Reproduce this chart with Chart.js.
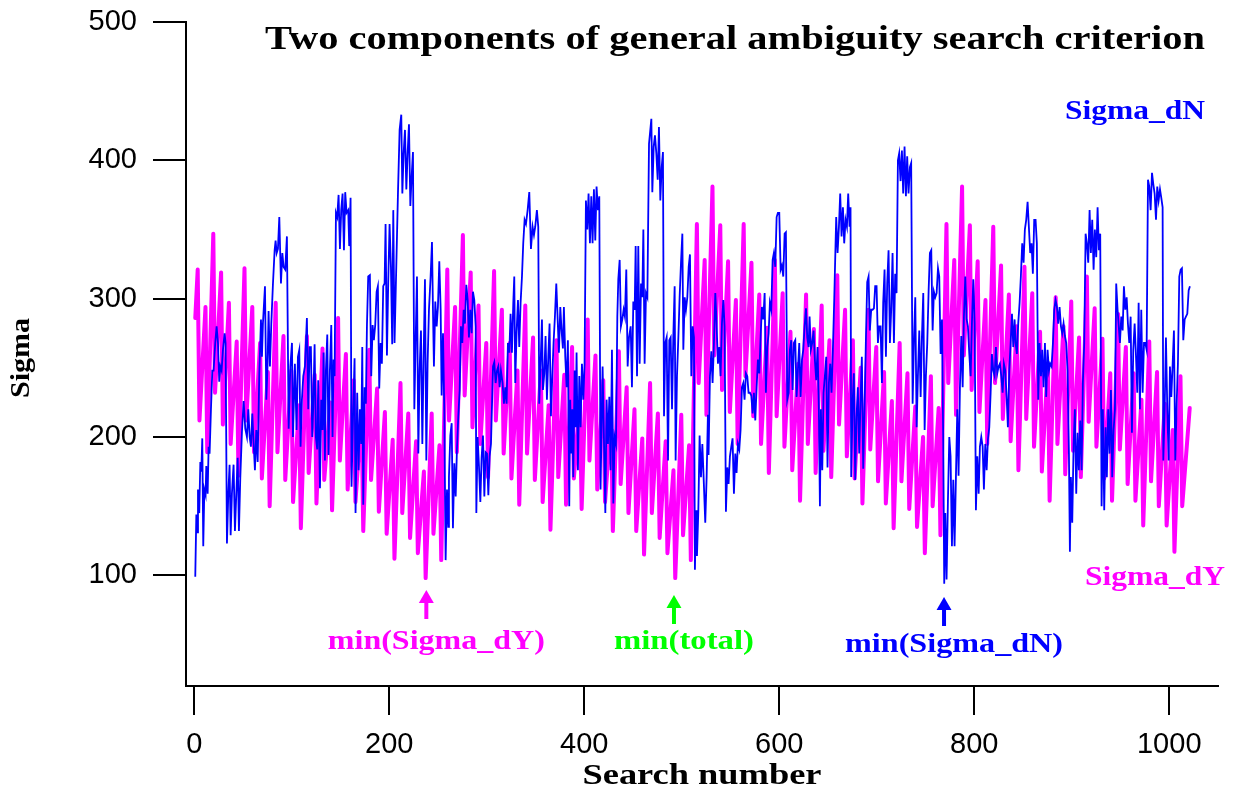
<!DOCTYPE html>
<html>
<head>
<meta charset="utf-8">
<title>Two components of general ambiguity search criterion</title>
<script src="https://cdn.jsdelivr.net/npm/chart.js@4"></script>
<style>
  body { margin: 0; background: #fff; }
  #wrap { width: 1234px; height: 792px; }
</style>
</head>
<body>
<div id="wrap"><canvas id="grafico" width="1234" height="792"></canvas></div>
<script>
// ---- data ----

// axis ticks
var xTicks = [0, 200, 400, 600, 800, 1000];
var yTicks = [100, 200, 300, 400, 500];

// Sigma_dN (blue): search number / sigma, turning points
var dnSearch = [
  1, 2.1, 3.4, 3.8, 5.1, 6.2, 7.2, 8.2, 9.2, 10.3,
  11.6, 12.3, 13.7, 14.7, 15.7, 17.1, 18.5, 19.8, 21.5, 22.9,
  24.3, 25.6, 26.7, 28, 29.4, 31.1, 32.1, 33.5, 34.9, 36.2,
  37.3, 38.6, 40.3, 41.7, 43.1, 44.5, 45.8, 47.2, 48.9, 50.6,
  52.3, 54, 55.4, 56.8, 58.1, 59.5, 60.9, 62.2, 63.6, 65,
  66.7, 68.4, 69.4, 70.4, 72.5, 73.9, 75.2, 76.2, 77.6, 79,
  80.7, 82.4, 83.4, 84.5, 85.8, 87.2, 88.9, 90.3, 91.6, 93.3,
  95, 96.8, 98.5, 100.2, 101.2,
  103.2, 104.9, 106.3, 107.7, 109, 110.4, 111.8, 113.5, 115.5, 116.9,
  118.3, 119.6, 121, 122, 123.4, 124.7, 126.1, 127.1, 128.9, 130.2,
  131.6, 132.6, 134, 135, 136.4, 137.7, 139.1, 140.5, 141.8, 142.9,
  143.9, 145.3, 146.6, 148, 149.4, 150.7, 152.1, 153.5, 154.8, 156.2,
  157.9, 158.9, 160.3, 161.3, 163, 164.4, 165.4, 167.1, 168.5, 169.9,
  171.2, 172.3, 173.3, 174.7, 176, 177.1, 178.4, 180.1, 181.5, 182.9,
  184.2, 185.6, 187, 188.3, 189.7, 191.1, 192.4, 193.8, 195.2, 196.2,
  197.6, 198.9, 200.3, 201.7, 203, 204.1, 205.4,
  208.9, 210.6, 212.3, 213.4, 214.7, 216.1, 217.5, 218.8, 220.2, 221.6,
  222.9, 224.3, 225.7, 227, 228.4, 229.8, 231.1, 232.5, 233.9, 235.2,
  236.6, 238, 239.3, 240.7, 242.4, 243.8, 244.8, 245.8, 247.2, 248.6,
  249.9, 251.3, 252.7, 253.7, 255.1, 256.4, 257.8, 259.2, 260.5, 261.2,
  262.6, 264, 265.3, 266.7, 268.1, 269.4, 270.8, 272.2, 273.5, 274.9,
  276.3, 277.6, 279, 280.4, 281.7, 283.1, 284.5, 285.8, 287.2, 288.6,
  289.3, 290.6, 292, 293.4, 294.7, 296.1, 297.5, 298.8, 300.2, 301.6,
  302.9, 304.3, 306.4, 307.7, 309.1, 310.5, 311.8, 313.2,
  314.5, 316.2, 317.6, 319, 320.3, 321.7, 323.1, 324.4, 325.8, 327.2,
  328.2, 329.2, 330.6, 332, 333.3, 334.7, 336.1, 337.4, 338.8, 340.2,
  341.9, 343.6, 345.3, 347, 348.4, 349.7, 351.4, 352.8, 353.8, 355.2,
  356.6, 357.6, 359, 360.3, 361.7, 363.1, 364.4, 365.8, 367.2, 368.5,
  369.9, 371.3, 372.6, 374, 375.4, 376.7, 378.1, 379.1, 380.5, 381.9,
  383.2, 384.6, 385.6, 386.6, 387.7, 388.7, 390.1, 391.1, 392.1, 393.5,
  394.9, 396.2, 397.6, 399, 400.3, 401.7, 403.1, 404.4, 405.8, 407.2,
  408.5, 409.9, 411.3, 412.6, 414, 415.4, 416.7, 418.8,
  421.6, 422.9, 424.3, 425.7, 427, 428.4, 429.8, 431.1, 432.5, 433.9,
  434.9, 436.3, 437.6, 439, 440.4, 441.7, 443.1, 444.5, 445.9, 447.6,
  448.9, 450.3, 451.7, 452.7, 454.1, 455.4, 456.8, 458.2, 459.5, 460.6,
  461.9, 463.3, 464.7, 466.4, 467.4, 468.8, 469.8, 471.2, 472.5, 473.9,
  475.3, 476.6, 478, 479.4, 480.7, 481.8, 483.1, 484.5, 485.9, 487.2,
  488.6, 490, 491.3, 492.7, 493.7, 495.1, 496.5, 497.8, 499.2, 500.6,
  501.6, 503, 504.3, 505.7, 507.1, 508.4, 509.8, 511.2, 512.5, 513.5,
  514.6, 515.6, 517, 518.3, 519.7, 521.1, 522.4,
  524.1, 525.5, 526.8, 527.5, 528.9, 530.3, 531.6, 533, 534.4, 535.7,
  537.1, 538.5, 539.8, 541.2, 542.6, 543.9, 545.3, 546.7, 548, 549.4,
  550.8, 552.1, 553.5, 554.9, 556.2, 557.6, 559, 560.3, 561.7, 563.1,
  564.4, 565.8, 567.2, 568.5, 569.9, 571.3, 572.7, 574, 575.4, 576.8,
  578.1, 579.5, 580.9, 582.2, 583.6, 585, 586.3, 587.7, 589.1, 590.4,
  591.8, 593.2, 594.5, 595.9, 597.3, 598.6, 600, 601.4, 602.7, 604.1,
  605.5, 606.8, 608.2, 609.6, 610.9, 612.3, 613.7, 615, 616.4, 617.8,
  619.1, 620.5, 621.9, 623.3, 624.6, 626, 627.4, 628.7, 630.1,
  631.1, 632.4, 633.8, 635.2, 636.5, 637.9, 639.3, 640.6, 641.7, 642.7,
  644.1, 645.4, 646.8, 648.2, 649.5, 650.9, 652.3, 653.6, 655, 656.4,
  658.4, 659.8, 661.2, 662.5, 663.9, 665.3, 666.6, 668, 669.4, 670.7,
  672.1, 673.1, 673.8, 675.2, 676.5, 677.9, 679.3, 680.6, 682, 683.4,
  684.7, 686.1, 687.5, 688.8, 690.2, 691.6, 692.9, 694.3, 695.7, 697.1,
  698.4, 699.8, 701.2, 702.5, 703.9, 705.3, 706.6, 708, 709.4, 710.7,
  712.1, 713.5, 714.8, 716.2, 717.6, 718.9, 720.3, 721.7, 723, 724.4,
  725.8, 727.1, 728.5, 729.9, 731.2, 732.6, 734, 735.3,
  736.8, 738.1, 739.5, 740.9, 742.2, 743.6, 745, 746.3, 747.7, 749.1,
  750.4, 751.8, 753.2, 754.5, 755.9, 757.3, 758.6, 760, 761.4, 762.8,
  764.1, 765.5, 766.9, 768.2, 769.2, 770.3, 771.6, 773, 774.4, 775.7,
  777.1, 778.5, 779.8, 781.2, 782.6, 783.9, 785.3, 786.7, 788.1, 789.4,
  790.8, 792.2, 793.5, 794.9, 796.3, 797.6, 799, 800.4, 801.7, 803.1,
  804.5, 805.8, 807.2, 808.6, 809.9, 811.3, 812.7, 814, 815.4, 816.8,
  818.1, 819.5, 820.9, 822.2, 823.6, 825, 826.3, 827.7, 829.1, 830.4,
  831.8, 833.2, 834.5, 835.9, 837.3, 838.7, 840, 841.4,
  842.4, 843.7, 845.1, 846.5, 847.8, 849.2, 850.6, 851.9, 853.3, 854.7,
  856, 857.4, 858.8, 860.1, 861.5, 862.9, 864.2, 865.6, 867, 868.4,
  869.7, 871.1, 872.5, 873.8, 875.2, 876.6, 877.9, 879.3, 880.7, 882,
  883.4, 884.8, 886.1, 887.5, 888.9, 890.2, 891.6, 893, 894.3, 895.7,
  897.1, 898.1, 899.1, 900.5, 901.9, 903.2, 904.6, 906, 907.3, 908.7,
  910.1, 911.4, 912.8, 914.2, 915.5, 916.9, 918.3, 919.6, 921, 922.4,
  923.7, 925.1, 926.5, 927.8, 929.2, 930.6, 931.9, 933.3, 934.7, 936,
  937.4, 938.8, 940.2, 941.5, 942.9, 944.3, 945.6, 947,
  949.4, 950.8, 952.2, 953.5, 954.9, 956.3, 957.6, 959, 960.4, 961.7,
  963.1, 964.5, 965.8, 967.2, 968.6, 969.9, 971.3, 972.7, 974.1, 975.4,
  976.8, 978.2, 979.5, 980.9, 982.3, 983.6, 985, 986.4, 987.7, 989.1,
  990.5, 991.8, 993.2, 993.9, 995.3, 996.6, 998, 999.4, 1000.7, 1002.1,
  1003.5, 1004.8, 1006.2, 1007.6, 1008.9, 1010.3, 1011.7, 1013, 1014.4, 1015.8,
  1017.1, 1018.5, 1019.9, 1021.2
];
var dnSigma = [
  99, 144, 131, 162, 145, 182, 175, 199, 121, 162,
  158, 179, 159, 193, 188, 220, 248, 248, 268, 280,
  268, 240, 251, 248, 263, 275, 268, 123, 159, 180,
  129, 159, 180, 132, 159, 185, 132, 171, 204, 226,
  206, 200, 220, 200, 193, 217, 195, 176, 205, 182,
  246, 285, 258, 282, 309, 227, 253, 291, 251, 282,
  311, 335, 342, 333, 336, 359, 311, 333, 323, 321,
  345, 206, 251, 268, 200,
  253, 205, 258, 263, 193, 227, 244, 251, 286, 220,
  265, 265, 200, 222, 267, 200, 191, 241, 163, 227,
  205, 261, 183, 248, 274, 187, 248, 281, 200, 256,
  244, 362, 359, 375, 336, 364, 376, 335, 377, 362,
  364, 338, 373, 164, 220, 257, 145, 232, 176, 220,
  195, 265, 151, 236, 224, 281, 316, 317, 244, 281,
  270, 281, 305, 309, 235, 268, 253, 309, 311, 354,
  259, 311, 354, 323, 267, 364, 268,
  376, 422, 433, 376, 405, 422, 379, 405, 426, 367,
  388, 406, 220, 268, 316, 188, 248, 277, 195, 256,
  314, 183, 253, 292, 316, 341, 292, 251, 298, 280,
  294, 327, 292, 230, 275, 220, 111, 162, 135, 171,
  201, 210, 134, 181, 157, 191, 215, 234, 280, 268,
  292, 282, 310, 299, 272, 292, 275, 305, 299, 280,
  145, 200, 179, 153, 185, 201, 157, 189, 188, 158,
  186, 195, 251, 254, 239, 248, 251, 236,
  248, 239, 224, 236, 224, 268, 261, 289, 261, 297,
  316, 239, 276, 299, 265, 297, 316, 340, 357, 354,
  364, 377, 336, 352, 346, 352, 364, 352, 224, 253,
  285, 234, 246, 273, 227, 258, 282, 215, 244, 268,
  287, 311, 287, 261, 294, 277, 264, 294, 258, 236,
  270, 150, 227, 188, 220, 171, 248, 207, 261, 176,
  244, 207, 253, 227, 253, 371, 350, 376, 340, 374,
  340, 379, 342, 381, 364, 374, 162, 251,
  145, 227, 195, 229, 176, 263, 152, 200, 195, 287,
  314, 328, 280, 285, 292, 287, 321, 251, 272, 280,
  236, 298, 292, 338, 244, 338, 253, 311, 301, 350,
  253, 304, 301, 412, 412, 430, 377, 410, 418, 405,
  386, 424, 371, 395, 406, 215, 268, 272, 183, 270,
  272, 220, 272, 309, 183, 244, 272, 301, 326, 347,
  263, 301, 292, 301, 323, 332, 244, 280, 272, 104,
  147, 114, 147, 201, 171, 195, 171,
  138, 171, 216, 187, 244, 262, 239, 268, 304, 282,
  253, 265, 244, 282, 299, 280, 146, 178, 166, 186,
  193, 199, 159, 188, 174, 195, 191, 205, 236, 239,
  227, 246, 244, 232, 232, 230, 217, 232, 212, 236,
  256, 246, 273, 294, 285, 304, 232, 265, 275, 297,
  292, 328, 333, 323, 359, 362, 362, 321, 324, 316,
  347, 348, 227, 232, 263, 270, 234, 268, 270, 229,
  248, 268, 229, 256, 263, 280, 293, 272, 265,
  287, 263, 268, 277, 256, 241, 265, 220, 150, 220,
  176, 232, 244, 258, 178, 239, 253, 232, 263, 300,
  359, 333, 352, 376, 345, 366, 340, 357, 352, 376,
  352, 366, 171, 224, 246, 169, 215, 236, 188, 227,
  258, 177, 220, 268, 312, 316, 277, 292, 292, 293,
  309, 309, 268, 280, 280, 239, 297, 321, 258, 311,
  335, 268, 292, 333, 268, 318, 304, 400, 405, 385,
  407, 376, 410, 374, 403, 376, 395, 398,
  224, 268, 301, 207, 244, 277, 229, 272, 304, 205,
  244, 268, 306, 333, 335, 277, 305, 301, 304, 322,
  316, 260, 285, 195, 94, 145, 97, 154, 200, 186,
  121, 169, 121, 171, 220, 172, 236, 273, 236, 287,
  316, 285, 280, 260, 244, 282, 314, 282, 147, 186,
  159, 193, 200, 193, 162, 195, 176, 198, 207, 232,
  260, 248, 244, 265, 246, 251, 253, 244, 232, 253,
  248, 229, 207, 248, 268, 289, 265, 285,
  268, 260, 282, 297, 316, 340, 326, 350, 357, 370,
  352, 333, 340, 318, 357, 357, 340, 227, 268, 244,
  263, 236, 268, 229, 263, 248, 253, 251, 268, 292,
  299, 294, 282, 294, 280, 275, 282, 273, 268, 248,
  188, 117, 171, 138, 195, 220, 159, 203, 176, 212,
  176, 239, 268, 347, 340, 326, 364, 333, 357, 321,
  350, 330, 366, 335, 347, 150, 220, 147, 207, 171,
  220, 188, 234, 171, 205, 220, 311, 292,
  268, 287, 277, 309, 292, 301, 282, 268, 287, 203,
  263, 282, 260, 232, 297, 220, 292, 232, 268, 268,
  263, 386, 381, 364, 391, 383, 376, 357, 381, 371,
  379, 373, 366, 183, 220, 272, 220, 183, 251, 229,
  253, 277, 183, 224, 253, 316, 321, 322, 270, 285,
  287, 289, 306, 309
];

// Sigma_dY (magenta): a zigzag repeating every 8 searches, one peak and one trough per cycle
var dyCycle = 8;
var dyPeakAt = 3.5;
var dyTroughAt = 5.3;
var dyPeak = [
  321, 294, 347, 319, 297, 269, 322, 294, 268, 247, 297, 273, 248, 223, 273, 245,
  264, 225, 286, 260, 241, 218, 263, 235, 218, 198, 239, 217, 197, 175, 217, 194,
  321, 294, 346, 319, 295, 268, 320, 292, 268, 248, 295, 272, 248, 223, 270, 245,
  265, 225, 285, 259, 241, 215, 262, 236, 220, 199, 239, 217, 197, 176, 216, 194,
  354, 328, 381, 353, 327, 299, 354, 326, 303, 279, 328, 304, 276, 253, 303, 278,
  295, 270, 317, 292, 270, 250, 292, 265, 247, 226, 268, 246, 222, 200, 244, 221,
  354, 328, 381, 353, 327, 299, 352, 324, 303, 280, 323, 304, 276, 253, 301, 280,
  298, 272, 316, 293, 271, 246, 289, 265, 246, 227, 269, 247, 224, 205, 244
];
var dyTrough = [
  212, 189, 232, 209, 195, 172, 212, 189, 170, 150, 189, 169, 153, 134, 174, 152,
  169, 147, 183, 162, 153, 132, 169, 146, 130, 112, 145, 127, 116, 98, 130, 111,
  212, 189, 230, 207, 195, 171, 212, 188, 170, 151, 188, 169, 153, 133, 171, 151,
  170, 148, 183, 162, 153, 132, 166, 145, 132, 115, 145, 127, 116, 98, 129, 111,
  239, 216, 259, 234, 218, 195, 244, 215, 195, 174, 215, 193, 176, 154, 195, 174,
  190, 171, 209, 186, 170, 152, 191, 168, 152, 134, 168, 148, 135, 116, 150, 129,
  239, 216, 259, 234, 218, 195, 239, 213, 197, 176, 213, 193, 175, 154, 195, 173,
  190, 171, 211, 193, 170, 154, 191, 166, 154, 136, 168, 150, 136, 117, 150
];
// first and last point of the magenta curve
var dyEndSearch = [1, 1021];
var dyEndSigma = [286, 221];

// where the three minima are marked
var minSearch = [238, 492, 769];
var minText = ['min(Sigma_dY)', 'min(total)', 'min(Sigma_dN)'];
var minColor = ['#ff00ff', '#00ff00', '#0000ff'];

// ---- build point lists ----
var dnPoints = [];
for (var i = 0; i < Math.min(dnSearch.length, dnSigma.length); i++) {
  dnPoints.push({ x: dnSearch[i], y: dnSigma[i] });
}
if (dnSearch.length !== dnSigma.length) console.warn('dN arrays differ', dnSearch.length, dnSigma.length);

var dyPoints = [{ x: dyEndSearch[0], y: dyEndSigma[0] }];
for (var k = 0; k < dyPeak.length; k++) {
  dyPoints.push({ x: k * dyCycle + dyPeakAt, y: dyPeak[k] });
  dyPoints.push({ x: k * dyCycle + dyTroughAt, y: dyTrough[k] });
}
dyPoints.push({ x: dyEndSearch[1], y: dyEndSigma[1] });

// ---- texts drawn on top ----
function fitText(ctx, text, cx, cy, w, size, color, rot) {
  ctx.save();
  ctx.font = 'bold ' + size + 'px "Liberation Serif", "DejaVu Serif", serif';
  ctx.fillStyle = color;
  ctx.textAlign = 'center';
  ctx.textBaseline = 'middle';
  ctx.translate(cx, cy);
  if (rot) ctx.rotate(rot);
  ctx.scale(w / ctx.measureText(text).width, 1);
  ctx.fillText(text, 0, 0);
  ctx.restore();
}

function upArrow(ctx, x, tip, end, color) {
  ctx.save();
  ctx.strokeStyle = color;
  ctx.fillStyle = color;
  ctx.lineWidth = 4;
  ctx.beginPath();
  ctx.moveTo(x, tip + 10);
  ctx.lineTo(x, end);
  ctx.stroke();
  ctx.beginPath();
  ctx.moveTo(x, tip);
  ctx.lineTo(x - 7.5, tip + 13);
  ctx.lineTo(x + 7.5, tip + 13);
  ctx.closePath();
  ctx.fill();
  ctx.restore();
}

var notas = {
  id: 'notas',
  afterDraw: function (chart) {
    var ctx = chart.ctx;
    var xs = chart.scales.x;
    fitText(ctx, 'Two components of general ambiguity search criterion', 735, 40, 940, 34, '#000');
    fitText(ctx, 'Sigma_dN', 1135, 112, 140, 28, '#0000ff');
    fitText(ctx, 'Sigma_dY', 1155, 578, 140, 28, '#ff00ff');
    fitText(ctx, 'Sigma', 22, 358, 80, 28, '#000', -Math.PI / 2);
    fitText(ctx, 'Search number', 702, 776, 239, 30, '#000');

    var widths = [217, 140, 218];
    var tips = [590, 595, 597];
    var labelY = [642, 642, 645];
    for (var m = 0; m < minSearch.length; m++) {
      var px = xs.getPixelForValue(minSearch[m]);
      upArrow(ctx, px, tips[m], tips[m] + 29, minColor[m]);
      fitText(ctx, minText[m], px + 10, labelY[m], widths[m], 28, minColor[m]);
    }
  }
};

// ---- chart ----
var ctxGrafico = document.getElementById('grafico').getContext('2d');

var tickFont = { family: '"Liberation Sans", Arial, sans-serif', size: 29 };

var grafico = new Chart(ctxGrafico, {
  type: 'line',
  data: {
    datasets: [
      {
        label: 'Sigma_dN',
        data: dnPoints,
        borderColor: '#0000ff',
        borderWidth: 1.8,
        pointRadius: 0,
        tension: 0,
        fill: false
      },
      {
        label: 'Sigma_dY',
        data: dyPoints,
        borderColor: '#ff00ff',
        borderWidth: 4,
        borderJoinStyle: 'round',
        borderCapStyle: 'round',
        pointRadius: 0,
        tension: 0,
        fill: false
      }
    ]
  },
  options: {
    responsive: false,
    devicePixelRatio: 1,
    animation: false,
    layout: { padding: { top: 22, right: 16, left: 0, bottom: 0 } },
    plugins: {
      legend: { display: false },
      tooltip: { enabled: false },
      title: { display: false }
    },
    scales: {
      x: {
        type: 'linear',
        min: -8.5,
        max: 1050,
        afterBuildTicks: function (s) { s.ticks = xTicks.map(function (v) { return { value: v }; }); },
        afterFit: function (s) { s.height = 106; },
        grid: { display: true, drawOnChartArea: false, drawTicks: true, tickLength: 29, color: '#000', lineWidth: 2 },
        border: { display: true, color: '#000', width: 2 },
        ticks: {
          color: '#000', font: tickFont, padding: 13, maxRotation: 0, autoSkip: false,
          callback: function (v) { return String(v); }
        }
      },
      y: {
        type: 'linear',
        min: 20,
        max: 500,
        afterBuildTicks: function (s) { s.ticks = yTicks.map(function (v) { return { value: v }; }); },
        afterFit: function (s) {
          s.width = 186;
          // top label may stick out a little, like in the picture
          s.paddingTop = 0;
          s.paddingBottom = 0;
        },
        grid: { display: true, drawOnChartArea: false, drawTicks: true, tickLength: 33, color: '#000', lineWidth: 2 },
        border: { display: true, color: '#000', width: 2 },
        ticks: { color: '#000', font: tickFont, padding: 16, callback: function (v) { return String(v); } }
      }
    }
  },
  plugins: [notas]
});
</script>
</body>
</html>
